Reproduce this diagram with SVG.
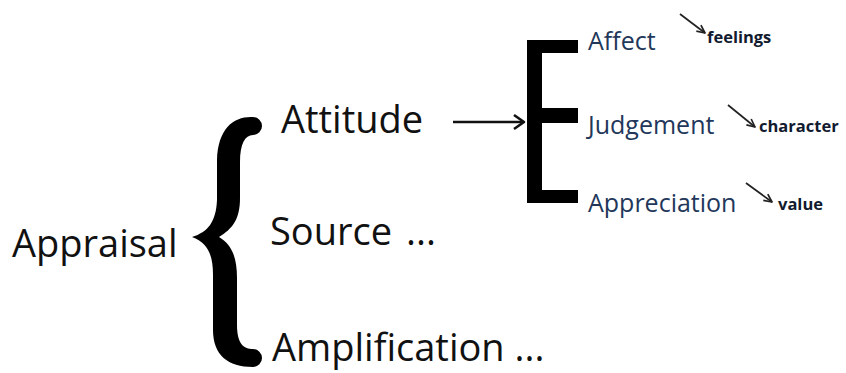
<svg xmlns="http://www.w3.org/2000/svg" width="846" height="373" viewBox="0 0 846 373">
  <style>
    .main { font-family: "Open Sans", "Liberation Sans", sans-serif; font-size: 38px; fill: #111; }
    .sub { font-family: "Open Sans", "Liberation Sans", sans-serif; font-size: 25px; fill: #22375a; }
    .note { font-family: "Open Sans", "Liberation Sans", sans-serif; font-size: 16.5px; font-weight: bold; fill: #111a2e; }
    .thin { stroke: #222; stroke-width: 1.7; fill: none; }
  </style>
  <defs>
    <marker id="head" viewBox="0 0 10 10" refX="9" refY="5" markerWidth="10" markerHeight="10" orient="auto" markerUnits="userSpaceOnUse">
      <path d="M1 1.2 L9 5 L1 8.8" fill="none" stroke="#222" stroke-width="1.7" stroke-linejoin="round"/>
    </marker>
  </defs>
  <rect width="846" height="373" fill="#fff"/>

  <!-- root term and its curly brace -->
  <g id="appraisal">
    <text class="main" x="12" y="257">Appraisal</text>
  </g>
  <g id="brace">
    <path fill="#000" d="M253 117 C234 116 218 128 217 160 L217 200 C216 222 208 232 192 237 C208 243 213 255 213 275 L213 330 C213 355 228 367 253 367 A9 9 0 0 0 253 349 C244 349 237 344 237 325 L237 278 C237 256 231 244 219 237 C232 229 240 220 240 198 L240 162 C240 144 245 135 253 135 A9 9 0 0 0 253 117 Z"/>
  </g>

  <!-- three sub-systems -->
  <g id="attitude">
    <text class="main" x="281" y="133">Attitude</text>
  </g>
  <g id="source">
    <text class="main" x="270" y="245">Source <tspan dx="4">...</tspan></text>
  </g>
  <g id="amplification">
    <text class="main" x="272" y="361">Amplification ...</text>
  </g>

  <!-- square bracket for attitude types -->
  <g id="bracket">
    <rect x="527" y="40" width="15" height="163" fill="#000"/>
    <rect x="527" y="40" width="51" height="13" fill="#000"/>
    <rect x="527" y="108" width="51" height="15" fill="#000"/>
    <rect x="527" y="190" width="51" height="13" fill="#000"/>
  </g>

  <g id="affect">
    <text class="sub" x="588" y="50">Affect</text>
  </g>
  <g id="judgement">
    <text class="sub" x="588" y="134">Judgement</text>
  </g>
  <g id="appreciation">
    <text class="sub" x="588" y="212">Appreciation</text>
  </g>

  <g id="feelings">
    <text class="note" x="707" y="43">feelings</text>
  </g>
  <g id="character">
    <text class="note" x="759" y="132">character</text>
  </g>
  <g id="value">
    <text class="note" x="778" y="210">value</text>
  </g>

  <!-- connectors -->
  <g id="connectors">
    <line x1="453" y1="122" x2="523" y2="122" stroke="#111" stroke-width="2.6"/>
    <path d="M514 115 L524 122 L514 129" fill="none" stroke="#111" stroke-width="2.6" stroke-linejoin="round"/>
    <line class="thin" x1="680" y1="14" x2="705" y2="33" marker-end="url(#head)"/>
    <line class="thin" x1="728" y1="105" x2="755" y2="127" marker-end="url(#head)"/>
    <line class="thin" x1="746" y1="183" x2="772" y2="202" marker-end="url(#head)"/>
  </g>
</svg>
